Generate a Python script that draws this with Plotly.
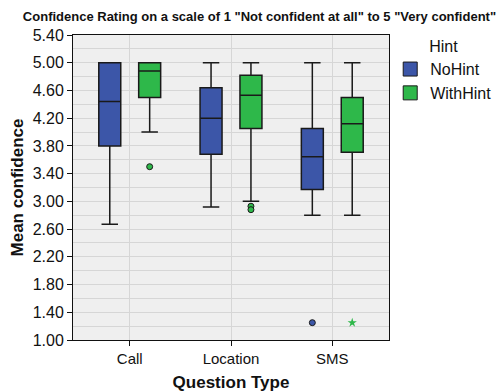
import plotly.graph_objects as go

categories = ["Call", "Location", "SMS"]
groups = ["NoHint", "WithHint"]
colors = {"NoHint": "#3C56A8", "WithHint": "#2EB84A"}

# box statistics per group, per category
lower = {"NoHint": [2.67, 2.92, 2.80], "WithHint": [4.00, 3.00, 2.80]}
q1 = {"NoHint": [3.80, 3.68, 3.17], "WithHint": [4.50, 4.05, 3.71]}
median = {"NoHint": [4.44, 4.20, 3.645], "WithHint": [4.88, 4.53, 4.12]}
q3 = {"NoHint": [5.00, 4.64, 4.05], "WithHint": [5.00, 4.82, 4.50]}
upper = {"NoHint": [5.00, 5.00, 5.00], "WithHint": [5.00, 5.00, 5.00]}

# outliers (circles) and extremes (stars): (category index, value)
outliers = {"NoHint": [(2, 1.25)], "WithHint": [(0, 3.50), (1, 2.93), (1, 2.88)]}
extremes = {"NoHint": [], "WithHint": [(2, 1.25)]}

offsets = {"NoHint": -0.197, "WithHint": 0.197}
box_width = 0.217

yticks = [1.00, 1.40, 1.80, 2.20, 2.60, 3.00, 3.40, 3.80, 4.20, 4.60, 5.00, 5.40]

fig = go.Figure()
for g in groups:
    xs = [i + offsets[g] for i in range(len(categories))]
    fig.add_trace(go.Box(
        x=xs, q1=q1[g], median=median[g], q3=q3[g],
        lowerfence=lower[g], upperfence=upper[g],
        width=box_width, fillcolor=colors[g],
        line=dict(color="#1a1a1a", width=1.5),
        whiskerwidth=0.75, showlegend=False, hoverinfo="skip",
    ))
    if outliers[g]:
        fig.add_trace(go.Scatter(
            x=[c + offsets[g] for c, v in outliers[g]],
            y=[v for c, v in outliers[g]],
            mode="markers", showlegend=False,
            marker=dict(symbol="circle", size=6, color=colors[g],
                        line=dict(color="#1a1a1a", width=1)),
        ))
    if extremes[g]:
        fig.add_trace(go.Scatter(
            x=[c + offsets[g] for c, v in extremes[g]],
            y=[v for c, v in extremes[g]],
            mode="markers", showlegend=False,
            marker=dict(symbol="star", size=7, color=colors[g], line=dict(width=0)),
        ))
    # legend swatch
    fig.add_trace(go.Scatter(
        x=[None], y=[None], mode="markers", name=g,
        marker=dict(symbol="square", size=14, color=colors[g],
                    line=dict(color="#1a1a1a", width=1)),
    ))

fig.update_layout(
    width=499, height=392,
    margin=dict(l=73, r=110, t=35, b=52, autoexpand=False),
    paper_bgcolor="white", plot_bgcolor="#EFEFEF",
    font=dict(family="Liberation Sans, Arial, sans-serif", color="#111", size=15),
    title=dict(text="<b>Confidence Rating on a scale of 1 \"Not confident at all\" to 5 \"Very confident\"</b>",
               x=0.52, xref="container", xanchor="center", y=0.957, yanchor="middle",
               font=dict(size=13, color="#111")),
    legend=dict(title=dict(text="Hint", side="top center", font=dict(size=16)),
                xref="container", yref="container",
                x=0.782, xanchor="left", y=0.92, yanchor="top",
                font=dict(size=16), itemwidth=30, tracegroupgap=0,
                bgcolor="rgba(0,0,0,0)"),
    xaxis=dict(range=[-0.56, 2.56], tickmode="array", tickvals=list(range(len(categories))),
               ticktext=categories, ticks="outside", ticklen=5, tickcolor="#111",
               showgrid=True, gridcolor="#D6D6D6", gridwidth=1, zeroline=False,
               showline=True, linecolor="#111", linewidth=1, mirror=True, automargin=False,
               title=dict(text="<b>Question Type</b>", font=dict(size=17), standoff=10),
               tickfont=dict(size=15)),
    yaxis=dict(range=[1.0, 5.4], tickmode="array", tickvals=yticks,
               ticktext=[f"{v:.2f}" for v in yticks], ticks="outside", ticklen=5,
               tickcolor="#111", showgrid=True, gridcolor="#D6D6D6", gridwidth=1,
               minor=dict(dtick=0.2, tick0=1.0, showgrid=True, gridcolor="#D6D6D6", gridwidth=1),
               zeroline=False, showline=True, linecolor="#111", linewidth=1, mirror=True,
               automargin=False,
               title=dict(text="<b>Mean confidence</b>", font=dict(size=17), standoff=4),
               tickfont=dict(size=16)),
)

fig.write_html("out.html")
